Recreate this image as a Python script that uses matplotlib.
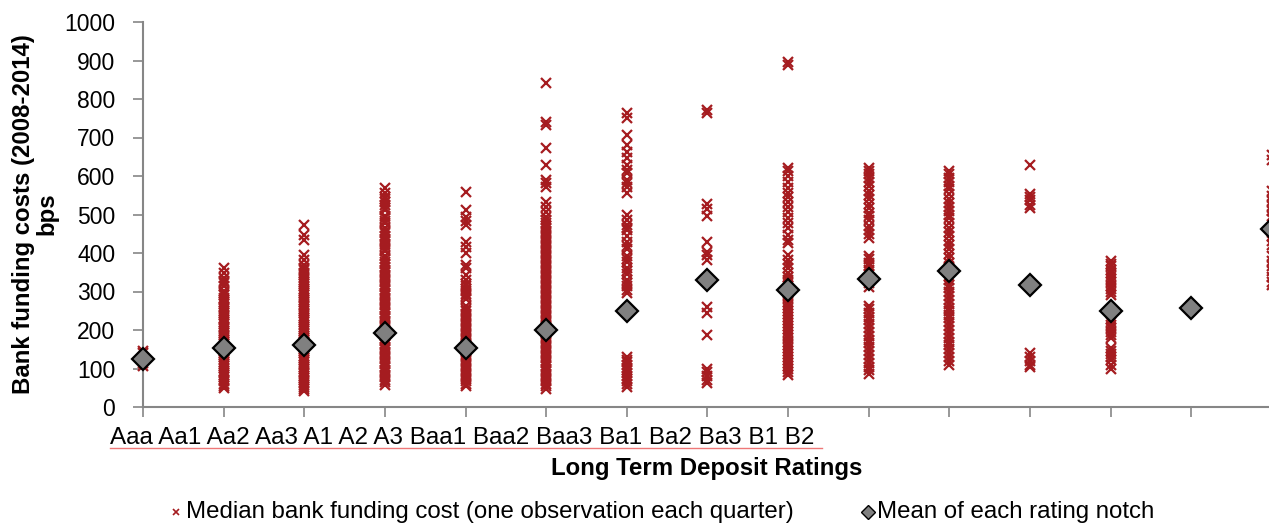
import numpy as np
import matplotlib
matplotlib.use('Agg')
from matplotlib import pyplot as plt
from matplotlib.lines import Line2D

plt.rcParams['font.family'] = ['Liberation Sans', 'DejaVu Sans']

ratings = ['Aaa', 'Aa1', 'Aa2', 'Aa3', 'A1', 'A2', 'A3', 'Baa1', 'Baa2',
           'Baa3', 'Ba1', 'Ba2', 'Ba3', 'B1', 'B2']

# median funding cost observations (bps), one list per rating notch
aaa = [106, 114, 122, 131, 139, 146]
aa1 = [49, 54, 60, 67, 71, 77, 84, 88, 94, 101, 106, 111, 118, 123, 129, 135, 140,
       146, 153, 157, 163, 170, 175, 180, 187, 192, 198, 204, 209, 215, 222, 226,
       232, 239, 244, 249, 256, 261, 267, 273, 278, 284, 291, 295, 301, 314, 322,
       327, 334, 347, 360]
aa2 = [41, 46, 53, 58, 63, 70, 75, 81, 88, 92, 98, 105, 110, 116, 122, 127, 133,
       140, 145, 150, 157, 162, 168, 175, 179, 185, 192, 197, 203, 209, 214, 220,
       227, 232, 237, 244, 249, 255, 262, 266, 272, 279, 284, 290, 296, 301, 307,
       314, 319, 324, 331, 336, 342, 349, 355, 361, 370, 382, 394, 433, 446, 474]
aa3 = [58, 64, 71, 77, 84, 91, 97, 104, 111, 117, 124, 131, 137, 144, 151, 157,
       164, 171, 177, 184, 191, 197, 204, 211, 217, 224, 231, 237, 244, 251, 257,
       264, 271, 277, 284, 291, 297, 304, 311, 317, 324, 331, 337, 344, 351, 357,
       364, 371, 377, 384, 391, 404, 411, 417, 424, 431, 437, 444, 451, 457, 464,
       477, 484, 491, 497, 512, 518, 525, 532, 539, 545, 557, 570]
a1 = [54, 60, 67, 73, 80, 86, 93, 99, 106, 112, 119, 125, 132, 138, 145, 151, 158,
      164, 171, 177, 184, 190, 197, 203, 210, 216, 223, 229, 236, 242, 249, 255,
      262, 281, 288, 294, 301, 307, 314, 320, 330, 343, 361, 369, 400, 416, 429,
      473, 483, 494, 512, 558]
a2 = [48, 54, 61, 67, 74, 80, 87, 93, 100, 106, 113, 119, 126, 132, 139, 145, 152,
      158, 165, 171, 178, 184, 191, 197, 204, 210, 217, 223, 230, 236, 243, 249,
      256, 262, 269, 275, 282, 288, 295, 301, 308, 314, 321, 327, 334, 340, 347,
      353, 360, 366, 373, 379, 386, 392, 399, 405, 412, 418, 425, 431, 438, 444,
      451, 457, 464, 470, 477, 486, 494, 506, 519, 532, 571, 582, 590, 629, 673,
      732, 740, 842]
a3 = [53, 60, 67, 74, 81, 88, 95, 102, 109, 116, 123, 130, 296, 305, 315, 322,
      331, 345, 352, 362, 377, 385, 392, 410, 418, 429, 445, 460, 466, 473, 486,
      499, 556, 571, 582, 590, 608, 616, 629, 647, 662, 680, 706, 751, 763]
baa1 = [62, 70, 80, 92, 100, 187, 244, 260, 382, 395, 403, 429, 496, 513, 527,
        763, 771]
baa2 = [84, 90, 98, 106, 114, 122, 130, 138, 146, 154, 162, 170, 178, 186, 194,
        202, 210, 218, 226, 234, 242, 250, 258, 266, 274, 282, 290, 298, 307, 315,
        322, 330, 338, 348, 362, 372, 383, 395, 425, 435, 447, 465, 478, 492, 506,
        520, 532, 545, 555, 570, 584, 600, 612, 621, 888, 895]
baa3 = [86, 95, 105, 115, 125, 135, 145, 155, 165, 175, 185, 195, 205, 215, 225,
        235, 245, 255, 262, 312, 322, 335, 345, 355, 365, 375, 385, 392, 440, 450,
        460, 470, 485, 495, 505, 518, 528, 540, 550, 562, 575, 585, 595, 605, 613,
        620]
ba1 = [110, 120, 130, 140, 150, 160, 170, 180, 190, 200, 210, 220, 230, 240, 250,
       258, 268, 278, 288, 298, 308, 318, 330, 340, 350, 362, 375, 388, 398, 410,
       420, 432, 445, 455, 465, 478, 490, 500, 510, 520, 530, 540, 553, 565, 575,
       585, 596, 604, 612]
ba2 = [103, 110, 120, 130, 140, 518, 525, 537, 545, 553, 629]
ba3 = [100, 110, 122, 130, 138, 145, 152, 180, 188, 196, 204, 212, 220, 228, 290,
       298, 306, 315, 324, 332, 340, 348, 356, 365, 372, 380]
b1 = [252, 262]
b2 = [318, 325, 338, 352, 365, 378, 392, 420, 432, 445, 488, 495, 508, 522, 535,
      548, 560, 642, 655]

# mean of each rating notch (bps)
means = [125, 152, 162, 192, 153, 199, 249, 330, 305, 333, 352, 316, 250, 258, 462]

columns = [aaa, aa1, aa2, aa3, a1, a2, a3, baa1, baa2, baa3, ba1, ba2, ba3, b1, b2]

RED = '#A51C20'
AXIS_GREY = '#868686'

W, H = 1269, 524
fig = plt.figure(figsize=(W / 100, H / 100), dpi=100)
ax = fig.add_axes([143 / W, (H - 407) / H, (1272 - 143) / W, (407 - 22) / H])

for i, values in enumerate(columns):
    ax.plot(np.full(len(values), i), values, linestyle='none', marker='x',
            ms=6.5, mew=1.6, color=RED, clip_on=False, zorder=2)

ax.plot(np.arange(len(means)), means, linestyle='none', marker='D', ms=11.5,
        mfc='#808080', mec='black', mew=1.6, clip_on=False, zorder=3)

ax.set_xlim(0, len(ratings) - 1)
ax.set_ylim(0, 1000)
ax.set_yticks(np.arange(0, 1001, 100))
ax.set_xticks(np.arange(len(ratings)))
ax.set_xticklabels([])
ax.tick_params(axis='y', labelsize=16.5, length=7, width=1.2, color=AXIS_GREY,
               pad=13, labelcolor='black')
ax.tick_params(axis='x', length=7, width=1.2, color=AXIS_GREY)

for side in ['top', 'right']:
    ax.spines[side].set_visible(False)
for side in ['left', 'bottom']:
    ax.spines[side].set_color(AXIS_GREY)
    ax.spines[side].set_linewidth(1.5)

# y axis title, two lines
fig.text(35 / W, 1 - 214 / H, 'Bank funding costs (2008-2014)\nbps',
         fontsize=17.3, fontweight='bold', rotation=90, ha='center',
         va='center', multialignment='center', linespacing=1.05)

# rating names typed as one line under the axis
fig.text(110 / W, 1 - 438 / H, ' '.join(ratings), fontsize=17.5, ha='left',
         va='center')
fig.add_artist(Line2D([110 / W, 822 / W], [1 - 448 / H, 1 - 448 / H],
                      color='#EE7777', lw=1.0))

fig.text(707 / W, 1 - 469 / H, 'Long Term Deposit Ratings', fontsize=17.3,
         fontweight='bold', ha='center', va='center')

# legend row
ly = 1 - 512 / H
fig.add_artist(Line2D([176 / W], [ly], marker='x', ms=5, mew=1.2, color=RED,
                      linestyle='none'))
fig.text(186 / W, ly, 'Median bank funding cost (one observation each quarter)',
         fontsize=17.3, ha='left', va='center')
fig.add_artist(Line2D([868 / W], [ly], marker='D', ms=7, mfc='#808080',
                      mec='black', mew=1.0, linestyle='none'))
fig.text(877 / W, ly, 'Mean of each rating notch', fontsize=17.3, ha='left',
         va='center')

fig.savefig('out.png', dpi=100)
